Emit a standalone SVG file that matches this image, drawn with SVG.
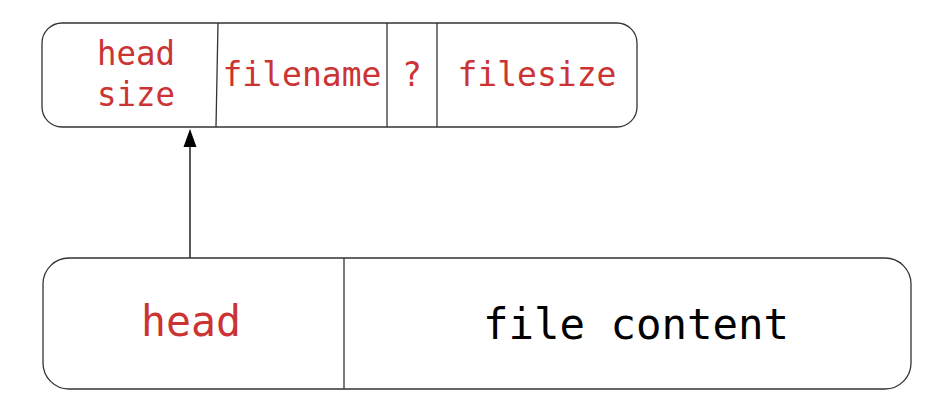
<svg xmlns="http://www.w3.org/2000/svg" width="934" height="408" viewBox="0 0 934 408">
<style>
.box{fill:#fff;stroke:#333;stroke-width:1.3}
.div{stroke:#333;stroke-width:1.3;fill:none}
.t{font-family:"DejaVu Sans Mono","Liberation Mono",monospace;text-anchor:middle}
.red{fill:#cc3333}
.blk{fill:#000}
.s{font-size:33px}
.l{font-size:42px}
</style>
<g id="connectors">
<line x1="190" y1="258" x2="190" y2="140" stroke="#000" stroke-width="1.3"/>
<path d="M183.5,147 L190,129 L196.5,147 Z" fill="#000"/>
</g>
<g id="head-struct">
<rect class="box" x="42" y="23" width="595" height="104" rx="20" ry="20"/>
<line class="div" x1="218" y1="23" x2="216" y2="127"/>
<line class="div" x1="387" y1="23" x2="387" y2="127"/>
<line class="div" x1="437" y1="23" x2="437" y2="127"/>
<text class="t red s" x="136" y="65" textLength="78" lengthAdjust="spacingAndGlyphs">head</text>
<text class="t red s" x="136" y="106" textLength="78" lengthAdjust="spacingAndGlyphs">size</text>
<text class="t red s" x="302" y="86" textLength="159" lengthAdjust="spacingAndGlyphs">filename</text>
<text class="t red s" x="412" y="86">?</text>
<text class="t red s" x="537" y="86" textLength="159" lengthAdjust="spacingAndGlyphs">filesize</text>
</g>
<g id="file">
<rect class="box" x="43" y="258" width="868" height="131" rx="26" ry="26"/>
<line class="div" x1="344" y1="258" x2="344" y2="389"/>
<text class="t red l" x="191" y="336" textLength="100" lengthAdjust="spacingAndGlyphs">head</text>
<text class="t blk l" x="636" y="339" textLength="306" lengthAdjust="spacingAndGlyphs">file content</text>
</g>
</svg>
